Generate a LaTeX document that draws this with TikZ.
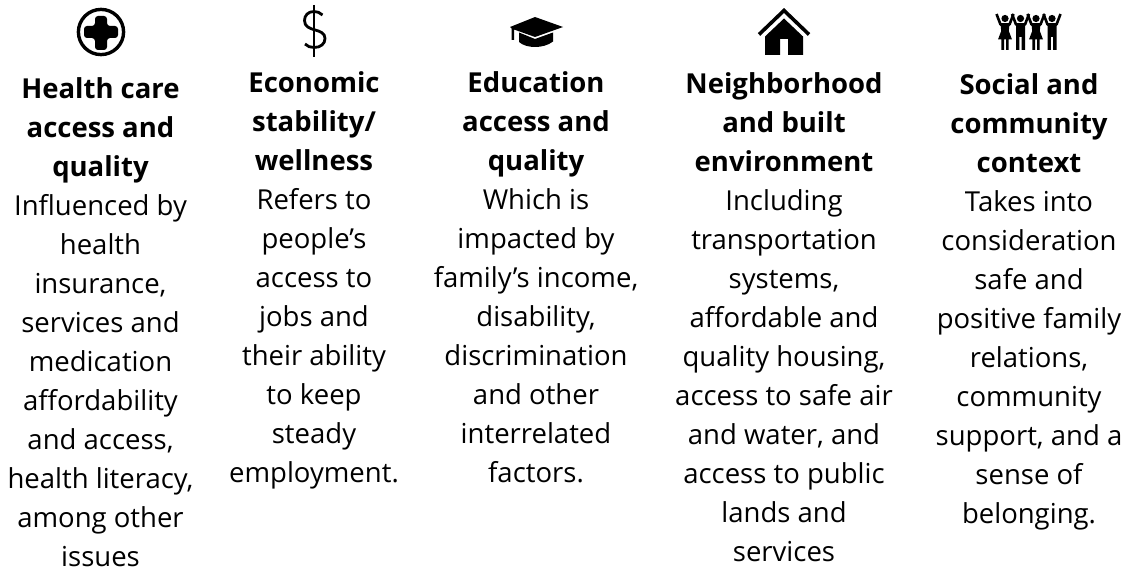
\documentclass[tikz,border=0pt]{standalone}
\usepackage{fontspec}
\setmainfont{Open Sans}
\tikzset{
  coltext/.style={anchor=north,align=center,inner sep=0pt,font=\fontsize{27.5}{39}\selectfont,text=black},
  armline/.style={line width=2.6,line join=round},
}
\newcommand{\hd}[1]{\textbf{#1}}
\newcommand{\personhead}{%
  \fill (0,18.5) circle (3.6);
  \draw[armline] (-8.5,14) -- (-4.5,24.5) -- (4.5,24.5) -- (8.5,14);}
\newcommand{\persondress}[1]{%
  \begin{scope}[shift={(#1,0)}]
    \personhead
    \fill (-4.5,24) -- (4.5,24) -- (3.8,31) -- (7,39.5) -- (3.6,39.5) -- (3.6,50) -- (1,50) -- (1,39.5) -- (-1,39.5) -- (-1,50) -- (-3.6,50) -- (-3.6,39.5) -- (-7,39.5) -- (-3.8,31) -- cycle;
  \end{scope}}
\newcommand{\personpants}[1]{%
  \begin{scope}[shift={(#1,0)}]
    \personhead
    \fill (-4.5,24) -- (4.5,24) -- (4.5,50) -- (1.2,50) -- (1.2,37) -- (-1.2,37) -- (-1.2,50) -- (-4.5,50) -- cycle;
  \end{scope}}
\begin{document}
\begin{tikzpicture}[x=1pt,y=-1pt]
\useasboundingbox (0,0) rectangle (1129,572);
% health cross
\draw[line width=3.4] (101,32) circle (22.6);
\fill[rounded corners=3] (95,16) -- (107,16) -- (107,26) -- (118,26) -- (118,38) -- (107,38) -- (107,50) -- (95,50) -- (95,38) -- (84,38) -- (84,26) -- (95,26) -- cycle;
% dollar
\draw[line width=2.6] (314,5) -- (314,57);
\draw[line width=2.8] (322.5,15) .. controls (320,12.5) and (317,11.5) .. (314,11.5) .. controls (308,11.5) and (304.5,15.5) .. (304.5,20.5) .. controls (304.5,33) and (325,27) .. (325,38.5) .. controls (325,44) and (320.5,47.5) .. (314,47.5) .. controls (310.5,47.5) and (307.5,46.5) .. (305,44);
% cap
\fill (535,17) -- (563,27) -- (535,37) -- (514,29.5) -- (514,40) -- (511.5,40) -- (511.5,28.5) -- (510,27) -- cycle;
\fill (519,32.5) -- (535,39) -- (553,32.5) -- (553,41.5) .. controls (548,45.5) and (541,47) .. (535,47) .. controls (529,47) and (523,45.5) .. (519,42) -- cycle;
% house
\draw[line width=3.6] (759,34.5) -- (784,10.5) -- (809,34.5);
\fill (784,18.5) -- (803,36.5) -- (803,55) -- (788,55) -- (788,39) -- (780,39) -- (780,55) -- (765,55) -- (765,36.5) -- cycle;
% people
\persondress{1005}\personpants{1020.5}\persondress{1036}\personpants{1052}
% columns
\node[coltext] (c1) at (100.5,77.3) {\hd{Health care}\\\hd{access and}\\\hd{quality}\\Influenced by\\health\\insurance,\\services and\\medication\\affordability\\and access,\\health literacy,\\among other\\issues};
\node[coltext] (c2) at (314,71.3) {\hd{Economic}\\\hd{stability/}\\\hd{wellness}\\Refers to\\people’s\\access to\\jobs and\\their ability\\to keep\\steady\\employment.};
\node[coltext] (c3) at (536,71.3) {\hd{Education}\\\hd{access and}\\\hd{quality}\\Which is\\impacted by\\family’s income,\\disability,\\discrimination\\and other\\interrelated\\factors.};
\node[coltext] (c4) at (784,72.3) {\hd{Neighborhood}\\\hd{and built}\\\hd{environment}\\Including\\transportation\\systems,\\affordable and\\quality housing,\\access to safe air\\and water, and\\access to public\\lands and\\services};
\node[coltext] (c5) at (1029,73.3) {\hd{Social and}\\\hd{community}\\\hd{context}\\Takes into\\consideration\\safe and\\positive family\\relations,\\community\\support, and a\\sense of\\belonging.};
\end{tikzpicture}
\end{document}
